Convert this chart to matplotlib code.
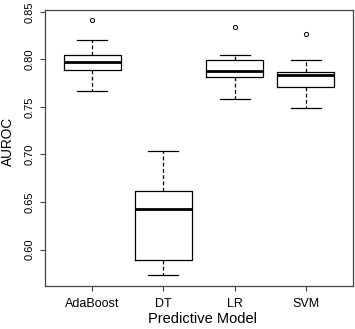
import matplotlib
matplotlib.use("Agg")
import matplotlib.pyplot as plt

plt.rcParams['font.family'] = ['Liberation Sans', 'DejaVu Sans']

models = ["AdaBoost", "DT", "LR", "SVM"]
whislo = [0.7665, 0.5728, 0.7587, 0.7493]
q1 = [0.7886, 0.5893, 0.7816, 0.7714]
med = [0.7970, 0.6423, 0.7876, 0.7834]
q3 = [0.8044, 0.6613, 0.7991, 0.7865]
whishi = [0.8205, 0.7040, 0.8047, 0.7998]
fliers = [[0.8410], [], [0.8345], [0.8268]]

yticks = [0.60, 0.65, 0.70, 0.75, 0.80, 0.85]
ytick_labels = ["0.60", "0.65", "0.70", "0.75", "0.80", "0.85"]

stats = []
for i, m in enumerate(models):
    stats.append(dict(label=m, whislo=whislo[i], q1=q1[i], med=med[i],
                      q3=q3[i], whishi=whishi[i], fliers=fliers[i]))

fig = plt.figure(figsize=(3.55, 3.29), dpi=100)
ax = fig.add_axes([45/355, 43/329, 308/355, 276/329])

positions = list(range(1, len(models) + 1))
ax.bxp(stats, positions=positions, widths=0.8, showfliers=True,
       boxprops=dict(color='black', linewidth=0.9),
       medianprops=dict(color='black', linewidth=2.0),
       whiskerprops=dict(color='black', linewidth=0.9, linestyle=(0, (3, 2))),
       capprops=dict(color='black', linewidth=0.9),
       capwidths=0.42,
       flierprops=dict(marker='o', markersize=3.0, markerfacecolor='none',
                       markeredgecolor='black', markeredgewidth=0.7))

ax.set_xlim(0.34, 4.66)
ax.set_ylim(0.5616, 0.852)
ax.set_yticks(yticks)
ax.set_yticklabels(ytick_labels, rotation=90, va='center', fontsize=8)
ax.set_xticks(positions)
ax.set_xticklabels(models, fontsize=9)
ax.tick_params(axis='x', direction='out', length=3.6, width=0.8, color='#444444', pad=4.7)
ax.tick_params(axis='y', direction='out', length=3.6, width=0.8, color='#444444', pad=4.0)
for s in ax.spines.values():
    s.set_color('#444444')
    s.set_linewidth(0.9)
ax.set_xlabel("Predictive Model", fontsize=10.5)
ax.set_ylabel("AUROC", fontsize=9.8)
ax.xaxis.set_label_coords(0.51, -0.094)
ax.yaxis.set_label_coords(-0.097, 0.525)

fig.savefig("out.png", dpi=100)
